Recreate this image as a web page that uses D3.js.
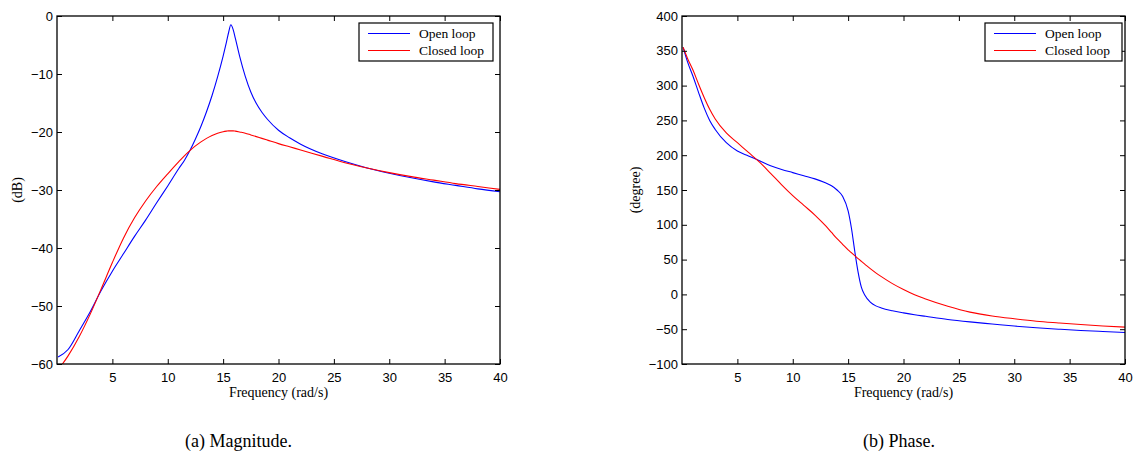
<!DOCTYPE html>
<html><head><meta charset="utf-8">
<script src="https://cdn.jsdelivr.net/npm/d3@7"></script>
<style>body{margin:0;background:#fff} svg{display:block}</style>
</head><body>
<svg id="c" width="1136" height="454"></svg>
<script>
// ---- data ----
const magFreq   = [0.1, 1, 2, 3, 4, 5, 6, 7, 8, 9, 10, 11, 11.5, 12, 12.5, 13, 13.5, 14, 14.5, 15, 15.3, 15.5, 15.7, 15.9, 16.1, 16.5, 17, 17.5, 18, 18.5, 19, 20, 21, 22, 24, 26, 28, 30, 32, 34, 36, 38, 40];
const magOpen   = [-58.8, -57.5, -54.3, -51.0, -47.3, -44.0, -41.0, -38.0, -35.2, -32.2, -29.3, -26.3, -24.9, -23.2, -21.2, -19.0, -16.5, -13.7, -10.5, -6.9, -4.5, -2.8, -1.5, -2.3, -3.8, -7.0, -10.4, -13.1, -15.1, -16.6, -17.8, -19.7, -21.0, -22.1, -23.8, -25.1, -26.2, -27.1, -27.9, -28.6, -29.2, -29.8, -30.3];
const magClosed = [-61.0, -58.6, -55.3, -51.4, -47.0, -42.5, -38.3, -34.8, -31.9, -29.4, -27.2, -25.1, -24.1, -23.2, -22.4, -21.7, -21.1, -20.6, -20.2, -19.95, -19.85, -19.8, -19.8, -19.8, -19.85, -20.0, -20.2, -20.5, -20.8, -21.1, -21.4, -22.0, -22.55, -23.1, -24.2, -25.3, -26.2, -27.0, -27.7, -28.3, -28.9, -29.4, -29.9];

const phaseFreq   = [0.1, 0.5, 1, 1.5, 2, 2.5, 3, 4, 5, 6, 7, 8, 9, 10, 11, 12, 13, 13.5, 14, 14.5, 15, 15.3, 15.6, 15.9, 16.2, 16.5, 17, 17.5, 18, 19, 20, 21, 22, 24, 26, 28, 30, 32, 34, 36, 38, 40];
const phaseOpen   = [355, 334, 313, 290, 268, 250, 237, 218, 206, 199, 192, 185, 179.5, 175, 170.5, 166, 160, 156, 150, 141, 120, 95, 62, 32, 10, -1, -11, -16.5, -19.5, -23.5, -26.5, -29.2, -31.5, -36, -39.5, -42.5, -45.5, -48, -50, -51.8, -53.3, -54.8];
const phaseClosed = [355, 339, 322, 302, 283, 266, 252, 232, 218, 204, 190, 174, 157.5, 142, 128, 114, 98, 89, 80, 72, 64, 59.8, 55.6, 51.4, 47.4, 43.5, 37, 31, 25.5, 15.5, 7, -0.5, -6.5, -17, -25.5, -31, -35, -38.5, -41, -43.3, -45.3, -47];

const xTicks = [5, 10, 15, 20, 25, 30, 35, 40];
const magTicks = [0, -10, -20, -30, -40, -50, -60];
const phaseTicks = [400, 350, 300, 250, 200, 150, 100, 50, 0, -50, -100];
const legendLabels = ["Open loop", "Closed loop"];
const seriesColors = ["#0000ff", "#ff0000"];
const xLabel = "Frequency (rad/s)";
const captions = ["(a) Magnitude.", "(b) Phase."];

// ---- drawing ----
const svg = d3.select("#c");
const SANS = "'Liberation Sans', Arial, Helvetica, sans-serif";
const SERIF = "'Liberation Serif', 'Times New Roman', Times, serif";

function panel(cfg) {
  const x = d3.scaleLinear().domain([0, 40]).range([cfg.x0, cfg.x1]);
  const y = d3.scaleLinear().domain(cfg.yDomain).range([364, 16]);
  const g = svg.append("g");

  const clipId = "clip" + cfg.id;
  svg.append("clipPath").attr("id", clipId).append("rect")
    .attr("x", cfg.x0).attr("y", 16).attr("width", cfg.x1 - cfg.x0).attr("height", 348);

  const line = d3.line().x(d => x(d[0])).y(d => y(d[1])).curve(d3.curveMonotoneX);
  cfg.series.forEach((s, i) => {
    g.append("path")
      .datum(cfg.freq.map((f, k) => [f, s[k]]))
      .attr("d", line)
      .attr("clip-path", `url(#${clipId})`)
      .attr("fill", "none")
      .attr("stroke", seriesColors[i])
      .attr("stroke-width", 1.1);
  });

  // axes with inward ticks
  const bottom = g.append("g").attr("transform", `translate(0,364)`)
    .call(d3.axisBottom(x).tickValues(xTicks).tickSizeInner(-5).tickSizeOuter(0).tickPadding(9));
  const top = g.append("g").attr("transform", `translate(0,16)`)
    .call(d3.axisTop(x).tickValues(xTicks).tickSizeInner(-5).tickSizeOuter(0).tickFormat(""));
  const left = g.append("g").attr("transform", `translate(${cfg.x0},0)`)
    .call(d3.axisLeft(y).tickValues(cfg.yTicks).tickSizeInner(-5).tickSizeOuter(0).tickPadding(4));
  const right = g.append("g").attr("transform", `translate(${cfg.x1},0)`)
    .call(d3.axisRight(y).tickValues(cfg.yTicks).tickSizeInner(-5).tickSizeOuter(0).tickFormat(""));
  [bottom, top, left, right].forEach(a => {
    a.select(".domain").remove();
    a.selectAll("line").attr("stroke", "#000").attr("stroke-width", 1);
    a.selectAll("text").attr("fill", "#000").style("font-family", SANS).style("font-size", "13px");
  });

  g.append("rect").attr("x", cfg.x0).attr("y", 16)
    .attr("width", cfg.x1 - cfg.x0).attr("height", 348)
    .attr("fill", "none").attr("stroke", "#000").attr("stroke-width", 1.3);

  // labels
  g.append("text").attr("x", (cfg.x0 + cfg.x1) / 2).attr("y", 397)
    .attr("text-anchor", "middle").style("font-family", SERIF).style("font-size", "14px")
    .text(xLabel);
  g.append("text").attr("transform", `translate(${cfg.yLabelX},190) rotate(-90)`)
    .attr("text-anchor", "middle").attr("dy", "0.35em")
    .style("font-family", SERIF).style("font-size", "14px").text(cfg.yLabel);

  // legend
  const L = cfg.legend;
  g.append("rect").attr("x", L.x).attr("y", 23).attr("width", L.w).attr("height", 38)
    .attr("fill", "#fff").attr("stroke", "#000").attr("stroke-width", 1.2);
  legendLabels.forEach((lab, i) => {
    const yy = 33.5 + i * 17;
    g.append("line").attr("x1", L.x + 9).attr("x2", L.x + 51).attr("y1", yy).attr("y2", yy)
      .attr("stroke", seriesColors[i]).attr("stroke-width", 1.1);
    g.append("text").attr("x", L.x + 60).attr("y", yy).attr("dy", "0.35em")
      .style("font-family", SERIF).style("font-size", "13.5px").text(lab);
  });

  // caption
  g.append("text").attr("x", cfg.capX).attr("y", 447)
    .style("font-family", SERIF).style("font-size", "18px").text(cfg.caption);
}

panel({
  id: "a", x0: 57, x1: 500, yDomain: [-60, 0], yTicks: magTicks,
  freq: magFreq, series: [magOpen, magClosed],
  yLabel: "(dB)", yLabelX: 17, legend: { x: 359, w: 134 },
  caption: captions[0], capX: 185
});
panel({
  id: "b", x0: 682, x1: 1125, yDomain: [-100, 400], yTicks: phaseTicks,
  freq: phaseFreq, series: [phaseOpen, phaseClosed],
  yLabel: "(degree)", yLabelX: 635, legend: { x: 985, w: 137 },
  caption: captions[1], capX: 863
});
</script>
</body></html>
